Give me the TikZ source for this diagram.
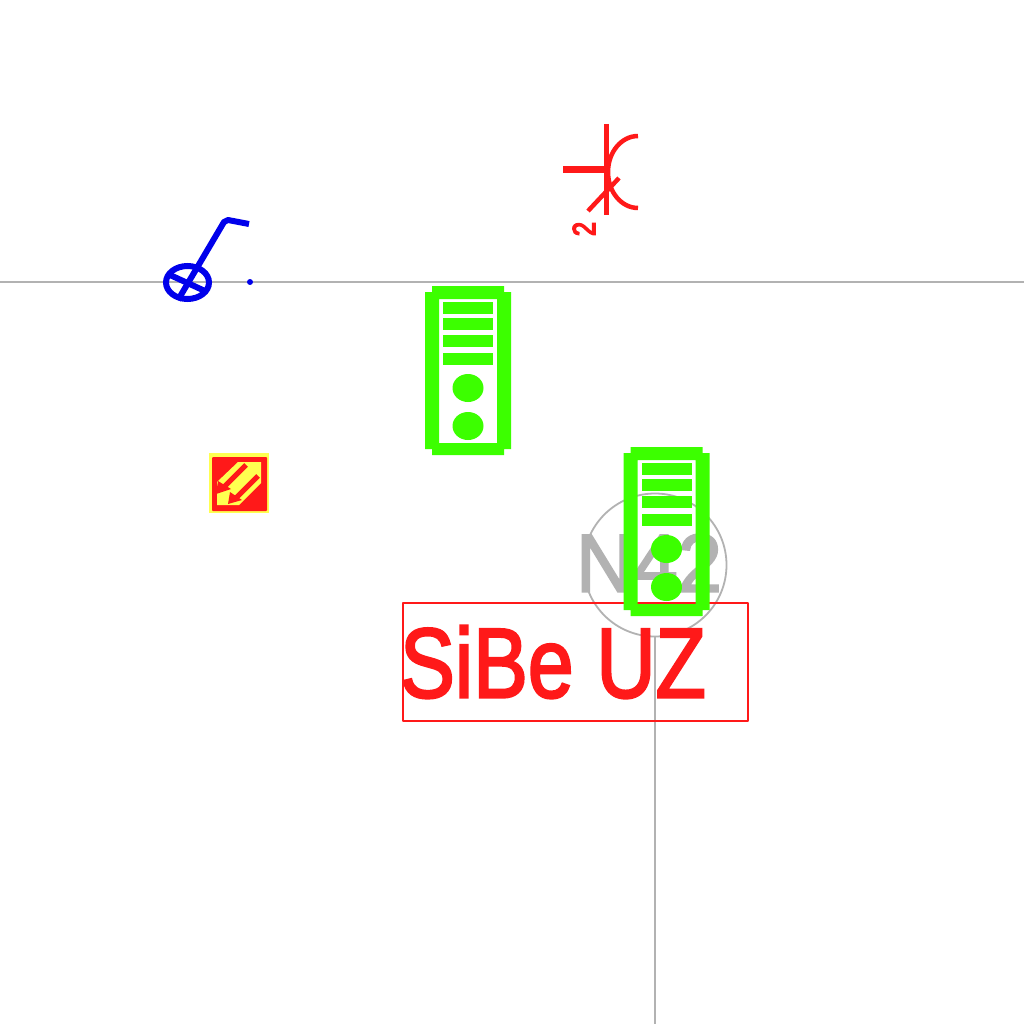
\documentclass[tikz,border=0pt]{standalone}
\usepackage{fontspec}
\setmainfont{Liberation Sans}
\newfontfamily\heavyfont[FakeBold=2.6]{Liberation Sans}
\newfontfamily\numfont[FakeBold=5]{Liberation Sans}
\definecolor{towergreen}{RGB}{60,255,0}
\definecolor{markred}{RGB}{255,25,25}
\definecolor{wheelblue}{RGB}{0,0,235}
\definecolor{linegray}{RGB}{178,178,178}
\definecolor{signyellow}{RGB}{255,255,80}
\newcommand{\towerat}[2]{
    \begin{scope}[shift={(#1,#2)}]
        \fill[towergreen,even odd rule] (7,0) -- (79,0) -- (79,6) -- (86,6) -- (86,163) -- (79,163) -- (79,169) -- (7,169) -- (7,163) -- (0,163) -- (0,6) -- (7,6) -- cycle
            (14,13) rectangle (72,157);
        \foreach \y in {16,32,49,67}
            \fill[towergreen] (18,\y) rectangle (68,\y+12);
        \foreach \y in {102,140}
            \fill[towergreen] (43,\y) ellipse [x radius=15.5, y radius=14];
    \end{scope}
}
\begin{document}
\begin{tikzpicture}[x=1pt,y=-1pt,every node/.style={inner sep=0pt}]
    \useasboundingbox (0,0) rectangle (1024,1024);
    \fill[white] (0,0) rectangle (1024,1024);
    % grey lines and ring
    \draw[linegray,line width=1.1pt] (0,282) -- (1024,282);
    \draw[linegray,line width=1.8pt] (655,636) -- (655,1024);
    \draw[linegray,line width=1.8pt] (655,565) circle (71.5);
    \node[text=linegray,font=\heavyfont\fontsize{82}{82}\selectfont,xscale=.97] (ringlabel) at (649,563) {N42};
    % label box
    \draw[markred,line width=2.8pt,line join=round] (403,603) rectangle (748,721);
    \node[text=markred,font=\heavyfont\fontsize{99}{99}\selectfont,xscale=.83] (boxlabel) at (553,662) {SiBe UZ};
    % towers
    \towerat{425}{286}
    \towerat{623.5}{447}
    % wheel
    \draw[wheelblue,line width=6pt] (187.5,282.5) ellipse [x radius=21.5, y radius=16.5];
    \draw[wheelblue,line width=6pt] (170,275) -- (205,291);
    \draw[wheelblue,line width=6pt,line join=round] (178,300) -- (224,222) -- (228,220) -- (249,224);
    \fill[wheelblue] (250,282) circle (3);
    % red symbol
    \draw[markred,line width=5pt] (606,124) -- (606,215);
    \draw[markred,line width=7pt] (563,169.5) -- (605,169.5);
    \draw[markred,line width=4.5pt] (638,136) arc[start angle=270,end angle=90,x radius=30,y radius=36];
    \draw[markred,line width=4.5pt] (588,211) -- (619,178);
    \node[text=markred,font=\numfont\fontsize{32}{32}\selectfont,rotate=90,xscale=.8] (symbolnum) at (584,229) {2};
    % sign
    \fill[signyellow] (209,453) rectangle (269,513);
    \fill[markred,rounded corners=1pt] (212,457) rectangle (267,511);
    \fill[signyellow] (238,462) -- (261,462) -- (261,483) -- (239,505) -- (217,505) -- (217,482) -- cycle;
    \draw[markred,line width=5pt] (246,465) -- (223,488);
    \draw[markred,line width=5pt] (258,476) -- (236,498);
    \fill[markred] (216,494) -- (218,481) -- (231,489) -- cycle;
    \fill[markred] (228,504) -- (230,492) -- (242,500) -- cycle;
\end{tikzpicture}
\end{document}
